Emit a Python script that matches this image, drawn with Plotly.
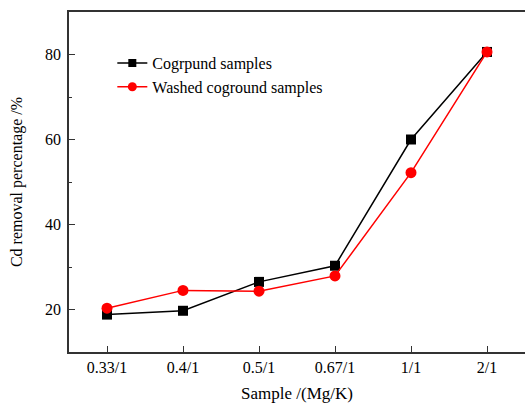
import plotly.graph_objects as go

categories = ["0.33/1", "0.4/1", "0.5/1", "0.67/1", "1/1", "2/1"]
cogrpund = [18.8, 19.7, 26.5, 30.3, 60.0, 80.6]
washed = [20.3, 24.5, 24.3, 27.9, 52.2, 80.6]
series_names = ["Cogrpund samples", "Washed coground samples"]

font_family = "Liberation Serif, Times New Roman, serif"

fig = go.Figure()
fig.add_trace(go.Scatter(
    x=categories, y=cogrpund, name=series_names[0], mode="lines+markers",
    line=dict(color="black", width=1.5),
    marker=dict(symbol="square", size=10, color="black"),
    showlegend=False,
))
fig.add_trace(go.Scatter(
    x=categories, y=washed, name=series_names[1], mode="lines+markers",
    line=dict(color="red", width=1.5),
    marker=dict(symbol="circle", size=11, color="red"),
    showlegend=False,
))
# legend entries with smaller symbols, like the reference
fig.add_trace(go.Scatter(
    x=[None], y=[None], name=series_names[0], mode="lines+markers",
    line=dict(color="black", width=1.5),
    marker=dict(symbol="square", size=8, color="black"),
))
fig.add_trace(go.Scatter(
    x=[None], y=[None], name=series_names[1], mode="lines+markers",
    line=dict(color="red", width=1.5),
    marker=dict(symbol="circle", size=9, color="red"),
))

fig.update_layout(
    width=525, height=403,
    margin=dict(l=69, r=0, t=12, b=51),
    paper_bgcolor="white", plot_bgcolor="white",
    font=dict(family=font_family, size=16, color="black"),
    showlegend=True,
    legend=dict(x=0.095, y=0.9, xanchor="left", yanchor="top",
                bgcolor="rgba(0,0,0,0)", font=dict(size=16, family=font_family),
                tracegroupgap=0, itemwidth=30),
    xaxis=dict(
        type="category", range=[-0.5, 5.5],
        showline=True, linecolor="#333", linewidth=1.5, mirror=True,
        ticks="inside", ticklen=6, tickcolor="#333", tickwidth=1.2,
        minor=dict(ticks="inside", ticklen=3, tickcolor="#333", dtick=0.5, showgrid=False),
        showgrid=False, zeroline=False,
        ticklabelstandoff=0,
        title=dict(text="Sample /(Mg/K)", font=dict(size=17), standoff=14),
        tickfont=dict(size=16),
    ),
    yaxis=dict(
        range=[10, 90], tickvals=[20, 40, 60, 80],
        showline=True, linecolor="#333", linewidth=1.5, mirror=False,
        ticks="inside", ticklen=6, tickcolor="#333", tickwidth=1.2,
        minor=dict(ticks="inside", ticklen=3, tickcolor="#333", tickvals=[30, 50, 70], showgrid=False),
        showgrid=False, zeroline=False,
        ticklabelstandoff=3,
        title=dict(text="Cd removal percentage /%", font=dict(size=16), standoff=18),
        tickfont=dict(size=16),
    ),
)

fig.write_html("out.html")
